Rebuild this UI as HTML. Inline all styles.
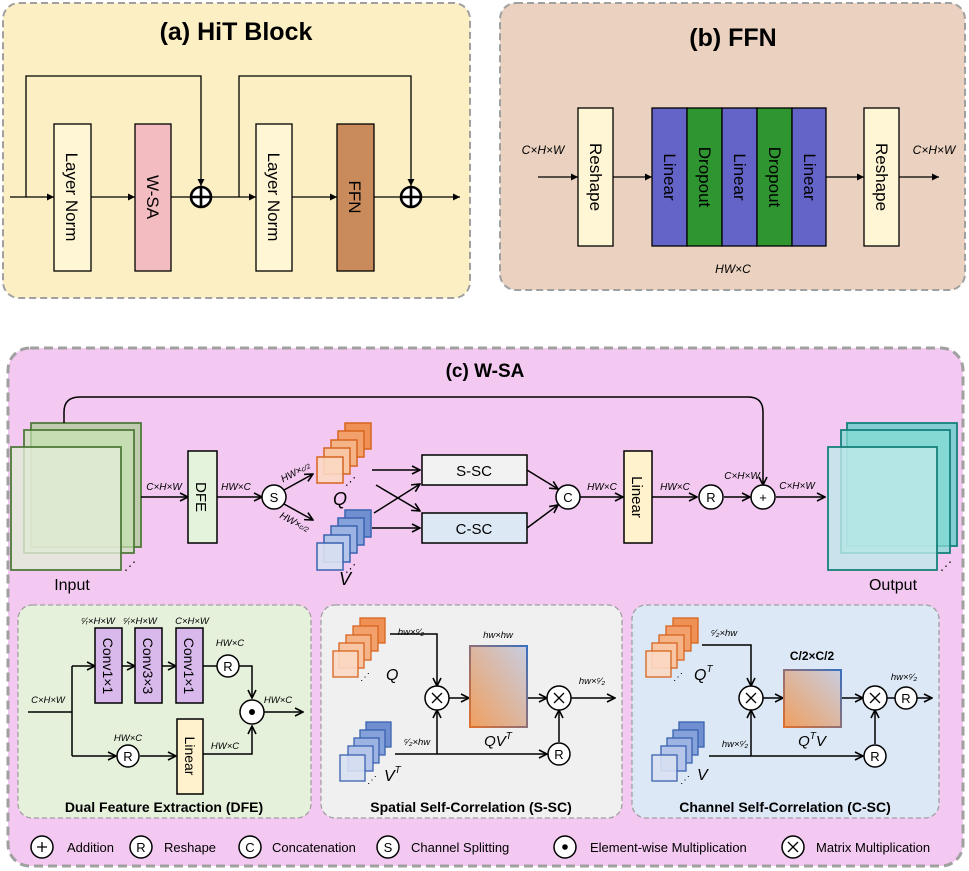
<!DOCTYPE html>
<html><head><meta charset="utf-8"><style>
html,body{margin:0;padding:0;background:#fff;}
svg{display:block;font-family:"Liberation Sans",Arial,sans-serif;}
</style></head><body>
<svg width="969" height="871" viewBox="0 0 969 871" xmlns="http://www.w3.org/2000/svg">
<defs>
<marker id="a" markerWidth="10" markerHeight="10" refX="9" refY="5" orient="auto" markerUnits="userSpaceOnUse"><path d="M1,1 L9,5 L1,9" fill="none" stroke="#000" stroke-width="1.6"/></marker>
<marker id="t" markerWidth="8" markerHeight="8" refX="7" refY="4" orient="auto" markerUnits="userSpaceOnUse"><path d="M0,0.5 L7,4 L0,7.5 Z" fill="#000"/></marker>
<linearGradient id="g" x1="0" y1="1" x2="1" y2="0"><stop offset="0" stop-color="#f0a060"/><stop offset="1" stop-color="#c8cde0"/></linearGradient>
<linearGradient id="gb" x1="0" y1="1" x2="1" y2="0"><stop offset="0" stop-color="#e07030"/><stop offset="1" stop-color="#3a70c0"/></linearGradient>
</defs>

<!-- (a) -->
<rect x="3" y="3" width="467" height="295" rx="16" fill="#fdefc4" stroke="#a0a0a0" stroke-width="2" stroke-dasharray="7,4"/>
<text x="236" y="40" font-size="25" font-weight="bold" text-anchor="middle">(a) HiT Block</text>
<g stroke="#000" stroke-width="1.3" fill="none">
<path d="M10,197 H54" marker-end="url(#t)"/>
<path d="M91,197 H135" marker-end="url(#t)"/>
<path d="M171,197 H190"/>
<path d="M212,197 H256" marker-end="url(#t)"/>
<path d="M292,197 H337" marker-end="url(#t)"/>
<path d="M374,197 H400"/>
<path d="M422,197 H460" marker-end="url(#t)"/>
<path d="M26,197 V76 H201 V186" marker-end="url(#t)"/>
<path d="M239,197 V76 H411 V186" marker-end="url(#t)"/>
</g>
<rect x="54" y="124" width="37" height="147" fill="#fff6d5" stroke="#000" stroke-width="1.3"/>
<rect x="135" y="124" width="36" height="147" fill="#f3bcc0" stroke="#000" stroke-width="1.3"/>
<rect x="256" y="124" width="36" height="147" fill="#fff6d5" stroke="#000" stroke-width="1.3"/>
<rect x="337" y="124" width="37" height="147" fill="#c98b5c" stroke="#000" stroke-width="1.3"/>
<g font-size="17" text-anchor="middle">
<text transform="translate(66,197) rotate(90)">Layer Norm</text>
<text transform="translate(147,197) rotate(90)">W-SA</text>
<text transform="translate(268,197) rotate(90)">Layer Norm</text>
<text transform="translate(349,197) rotate(90)">FFN</text>
</g>
<g stroke="#000" stroke-width="2.6" fill="#fff">
<circle cx="201" cy="197" r="10"/><path d="M191,197H211M201,187V207"/>
<circle cx="411" cy="197" r="10"/><path d="M401,197H421M411,187V207"/>
</g>

<!-- (b) -->
<rect x="500" y="3" width="465" height="287" rx="16" fill="#ead1c0" stroke="#a0a0a0" stroke-width="2" stroke-dasharray="7,4"/>
<text x="733" y="46" font-size="25" font-weight="bold" text-anchor="middle">(b) FFN</text>
<g stroke="#000" stroke-width="1.3" fill="none">
<path d="M538,177 H578" marker-end="url(#t)"/>
<path d="M613,177 H652" marker-end="url(#t)"/>
<path d="M826,177 H864" marker-end="url(#t)"/>
<path d="M899,177 H939" marker-end="url(#t)"/>
</g>
<rect x="578" y="108" width="35" height="138" fill="#fff6d5" stroke="#000" stroke-width="1.3"/>
<rect x="864" y="108" width="35" height="138" fill="#fff6d5" stroke="#000" stroke-width="1.3"/>
<rect x="652" y="108" width="35" height="138" fill="#6464c8" stroke="#000" stroke-width="1.3"/>
<rect x="687" y="108" width="35" height="138" fill="#2e9530" stroke="#000" stroke-width="1.3"/>
<rect x="722" y="108" width="35" height="138" fill="#6464c8" stroke="#000" stroke-width="1.3"/>
<rect x="757" y="108" width="35" height="138" fill="#2e9530" stroke="#000" stroke-width="1.3"/>
<rect x="792" y="108" width="34" height="138" fill="#6464c8" stroke="#000" stroke-width="1.3"/>
<g font-size="17" text-anchor="middle">
<text transform="translate(590,177) rotate(90)">Reshape</text>
<text transform="translate(876,177) rotate(90)">Reshape</text>
<text transform="translate(664,177) rotate(90)">Linear</text>
<text transform="translate(699,177) rotate(90)">Dropout</text>
<text transform="translate(734,177) rotate(90)">Linear</text>
<text transform="translate(769,177) rotate(90)">Dropout</text>
<text transform="translate(804,177) rotate(90)">Linear</text>
</g>
<g font-size="12" font-style="italic" text-anchor="middle">
<text x="543" y="154">C×H×W</text><text x="934" y="154">C×H×W</text><text x="733" y="273">HW×C</text>
</g>

<!-- (c) -->
<rect x="8" y="348" width="955" height="518" rx="22" fill="#f3c9f1" stroke="#a0a0a0" stroke-width="3" stroke-dasharray="9,5"/>
<text x="485" y="377" font-size="19" font-weight="bold" text-anchor="middle">(c) W-SA</text>

<rect x="31" y="423" width="110" height="124" fill="#a8cf92" fill-opacity="0.7" stroke="#4f7a3a" stroke-width="1.8"/>
<rect x="24" y="430" width="110" height="123" fill="#c9e4b5" fill-opacity="0.7" stroke="#4f7a3a" stroke-width="1.8"/>
<rect x="11" y="447" width="110" height="123" fill="#e2ecd8" fill-opacity="0.8" stroke="#4f7a3a" stroke-width="1.8"/>
<text x="124" y="570" font-size="12">⋰</text>
<text x="72" y="590" font-size="16" text-anchor="middle">Input</text>
<rect x="847" y="423" width="110" height="123" fill="#5ecdc8" fill-opacity="0.75" stroke="#16807a" stroke-width="1.8"/>
<rect x="841" y="430" width="109" height="123" fill="#86dcd6" fill-opacity="0.75" stroke="#16807a" stroke-width="1.8"/>
<rect x="828" y="447" width="109" height="123" fill="#bfe9ea" fill-opacity="0.8" stroke="#16807a" stroke-width="1.8"/>
<text x="940" y="570" font-size="12">⋰</text>
<text x="893" y="590" font-size="16" text-anchor="middle">Output</text>

<g stroke="#d7641e" stroke-width="1.5">
<rect x="345" y="423" width="26" height="26" fill="#ef9055"/>
<rect x="338" y="431" width="26" height="26" fill="#f2a06c"/>
<rect x="331" y="440" width="26" height="26" fill="#f5b488"/>
<rect x="324" y="448" width="26" height="26" fill="#f8c6a4"/>
<rect x="317" y="457" width="26" height="26" fill="#fbd8c4" fill-opacity="0.9"/>
</g>
<text x="345" y="485" font-size="11">⋰</text>
<text x="340" y="505" font-size="18" font-style="italic" text-anchor="middle">Q</text>
<g stroke="#3a62b0" stroke-width="1.5">
<rect x="345" y="510" width="26" height="27" fill="#6f8fd0"/>
<rect x="338" y="518" width="26" height="27" fill="#86a2da"/>
<rect x="331" y="526" width="26" height="27" fill="#9db4e2"/>
<rect x="324" y="535" width="26" height="27" fill="#b5c6ea"/>
<rect x="317" y="543" width="26" height="27" fill="#d8e0f2" fill-opacity="0.9"/>
</g>
<text x="345" y="572" font-size="11">⋰</text>
<text x="345" y="585" font-size="18" font-style="italic" text-anchor="middle">V</text>

<g stroke="#000" stroke-width="1.5" fill="none">
<path d="M64,423 V412 Q64,397 80,397 H748 Q763,397 763,412 V485" marker-end="url(#a)"/>
<path d="M141,497 H188" marker-end="url(#a)"/>
<path d="M217,497 H262" marker-end="url(#a)"/>
<path d="M284,490 L313,474" marker-end="url(#a)"/>
<path d="M284,504 L313,520" marker-end="url(#a)"/>
<path d="M372,470 H420" marker-end="url(#a)"/>
<path d="M376,485 L420,511" marker-end="url(#a)"/>
<path d="M374,513 L420,484" marker-end="url(#a)"/>
<path d="M372,528 H420" marker-end="url(#a)"/>
<path d="M527,470 L558,489" marker-end="url(#a)"/>
<path d="M527,528 L558,505" marker-end="url(#a)"/>
<path d="M580,497 H623" marker-end="url(#a)"/>
<path d="M652,497 H697" marker-end="url(#a)"/>
<path d="M724,497 H750" marker-end="url(#a)"/>
<path d="M776,497 H825" marker-end="url(#a)"/>
</g>
<rect x="188" y="451" width="29" height="92" fill="#e4f4dc" stroke="#000" stroke-width="1.5"/>
<text transform="translate(196,497) rotate(90)" font-size="15" text-anchor="middle">DFE</text>
<rect x="422" y="455" width="105" height="30" fill="#f2f2f2" stroke="#000" stroke-width="1.5"/>
<text x="474" y="476" font-size="15" text-anchor="middle">S-SC</text>
<rect x="422" y="513" width="105" height="30" fill="#dde8f5" stroke="#000" stroke-width="1.5"/>
<text x="474" y="534" font-size="15" text-anchor="middle">C-SC</text>
<rect x="624" y="451" width="28" height="92" fill="#fff2cc" stroke="#000" stroke-width="1.5"/>
<text transform="translate(632,497) rotate(90)" font-size="15" text-anchor="middle">Linear</text>
<g stroke="#000" stroke-width="1.5" fill="#fff">
<circle cx="274" cy="497" r="12"/><circle cx="568" cy="497" r="12"/><circle cx="711" cy="497" r="12"/><circle cx="763" cy="497" r="12"/>
</g>
<g font-size="13" text-anchor="middle">
<text x="274" y="502">S</text><text x="568" y="502">C</text><text x="711" y="502">R</text><text x="763" y="502">+</text>
</g>
<g font-size="10" font-style="italic" text-anchor="middle">
<text x="164" y="490">C×H×W</text><text x="236" y="490">HW×C</text>
<text x="602" y="490">HW×C</text><text x="675" y="490">HW×C</text>
<text x="742" y="479">C×H×W</text><text x="797" y="489">C×H×W</text>
<text transform="translate(297,475) rotate(-28)">HW×<tspan font-size="7">c/2</tspan></text>
<text transform="translate(293,525) rotate(28)">HW×<tspan font-size="7">c/2</tspan></text>
</g>

<!-- DFE panel -->
<rect x="18" y="605" width="293" height="213" rx="14" fill="#e6f1dc" stroke="#a0a0a0" stroke-width="1.3" stroke-dasharray="5,3"/>
<g stroke="#000" stroke-width="1.5" fill="none">
<path d="M28,712 H72"/>
<path d="M72,666 V756"/>
<path d="M72,666 H95" marker-end="url(#a)"/>
<path d="M122,666 H135" marker-end="url(#a)"/>
<path d="M162,666 H176" marker-end="url(#a)"/>
<path d="M203,666 H217"/>
<path d="M239,666 H252 V698" marker-end="url(#a)"/>
<path d="M72,756 H116" marker-end="url(#a)"/>
<path d="M140,756 H176" marker-end="url(#a)"/>
<path d="M203,754 H252 V726" marker-end="url(#a)"/>
<path d="M264,712 H303" marker-end="url(#a)"/>
</g>
<g fill="#d9b9ec" stroke="#000" stroke-width="1.5">
<rect x="95" y="628" width="27" height="75"/><rect x="135" y="628" width="27" height="75"/><rect x="176" y="628" width="27" height="75"/>
</g>
<rect x="177" y="719" width="26" height="75" fill="#fff2cc" stroke="#000" stroke-width="1.5"/>
<g font-size="14" text-anchor="middle">
<text transform="translate(103,666) rotate(90)">Conv1×1</text>
<text transform="translate(143,666) rotate(90)">Conv3×3</text>
<text transform="translate(184,666) rotate(90)">Conv1×1</text>
<text transform="translate(185,756) rotate(90)">Linear</text>
</g>
<g stroke="#000" stroke-width="1.5" fill="#fff">
<circle cx="228" cy="666" r="11"/><circle cx="128" cy="756" r="11"/><circle cx="252" cy="712" r="12"/>
</g>
<circle cx="252" cy="712" r="3" fill="#000"/>
<g font-size="13" text-anchor="middle"><text x="228" y="671">R</text><text x="128" y="761">R</text></g>
<g font-size="9.5" font-style="italic" text-anchor="middle">
<text x="98" y="624">ᶜ⁄ᵣ×H×W</text><text x="140" y="624">ᶜ⁄ᵣ×H×W</text><text x="192" y="624">C×H×W</text>
<text x="230" y="646">HW×C</text><text x="48" y="703">C×H×W</text><text x="278" y="703">HW×C</text>
<text x="128" y="741">HW×C</text><text x="225" y="749">HW×C</text>
</g>
<text x="164" y="812" font-size="14" font-weight="bold" text-anchor="middle">Dual Feature Extraction (DFE)</text>

<!-- S-SC panel -->
<rect x="321" y="605" width="301" height="213" rx="14" fill="#f0f0f0" stroke="#a0a0a0" stroke-width="1.3" stroke-dasharray="5,3"/>
<g stroke="#d7641e" stroke-width="1.3">
<rect x="360" y="618" width="25" height="25" fill="#ef9055"/><rect x="353" y="626" width="25" height="25" fill="#f2a06c"/>
<rect x="346" y="635" width="25" height="25" fill="#f5b488"/><rect x="339" y="643" width="25" height="25" fill="#f8c6a4"/>
<rect x="333" y="651" width="25" height="26" fill="#fbd8c4" fill-opacity="0.9"/>
</g>
<text x="360" y="680" font-size="10">⋰</text>
<text x="386" y="680" font-size="16" font-style="italic">Q</text>
<g stroke="#3a62b0" stroke-width="1.3">
<rect x="366" y="722" width="25" height="25" fill="#6f8fd0"/><rect x="360" y="730" width="25" height="25" fill="#86a2da"/>
<rect x="354" y="738" width="25" height="25" fill="#9db4e2"/><rect x="348" y="746" width="25" height="25" fill="#b5c6ea"/>
<rect x="340" y="755" width="25" height="26" fill="#d8e0f2" fill-opacity="0.9"/>
</g>
<text x="367" y="783" font-size="10">⋰</text>
<text x="384" y="781" font-size="16" font-style="italic">V<tspan font-size="10" dy="-8">T</tspan></text>
<g stroke="#000" stroke-width="1.5" fill="none">
<path d="M390,634 H437 V686" marker-end="url(#a)"/>
<path d="M395,754 H547" marker-end="url(#a)"/>
<path d="M437,754 V710" marker-end="url(#a)"/>
<path d="M449,698 H469" marker-end="url(#a)"/>
<path d="M527,698 H547" marker-end="url(#a)"/>
<path d="M559,742 V710" marker-end="url(#a)"/>
<path d="M571,698 H615" marker-end="url(#a)"/>
</g>
<rect x="470" y="646" width="57" height="81" fill="url(#g)" stroke="url(#gb)" stroke-width="2"/>
<g stroke="#000" stroke-width="1.5" fill="#fff"><circle cx="437" cy="698" r="12"/><circle cx="559" cy="698" r="12"/><circle cx="559" cy="754" r="11"/></g>
<g stroke="#000" stroke-width="1.3"><path d="M432,693l10,10M442,693l-10,10M554,693l10,10M564,693l-10,10"/></g>
<text x="559" y="759" font-size="13" text-anchor="middle">R</text>
<g font-size="9.5" font-style="italic" text-anchor="middle">
<text x="411" y="635">hw×ᶜ⁄₂</text><text x="417" y="745">ᶜ⁄₂×hw</text><text x="498" y="638">hw×hw</text><text x="592" y="684">hw×ᶜ⁄₂</text>
</g>
<text x="498" y="746" font-size="15" font-style="italic" text-anchor="middle">QV<tspan font-size="10" dy="-7">T</tspan></text>
<text x="471" y="812" font-size="14" font-weight="bold" text-anchor="middle">Spatial Self-Correlation (S-SC)</text>

<!-- C-SC panel -->
<rect x="632" y="605" width="307" height="213" rx="14" fill="#dce8f5" stroke="#a0a0a0" stroke-width="1.3" stroke-dasharray="5,3"/>
<g stroke="#d7641e" stroke-width="1.3">
<rect x="673" y="618" width="25" height="25" fill="#ef9055"/><rect x="666" y="626" width="25" height="25" fill="#f2a06c"/>
<rect x="659" y="635" width="25" height="25" fill="#f5b488"/><rect x="652" y="643" width="25" height="25" fill="#f8c6a4"/>
<rect x="646" y="651" width="25" height="26" fill="#fbd8c4" fill-opacity="0.9"/>
</g>
<text x="673" y="680" font-size="10">⋰</text>
<text x="694" y="680" font-size="16" font-style="italic">Q<tspan font-size="10" dy="-8">T</tspan></text>
<g stroke="#3a62b0" stroke-width="1.3">
<rect x="679" y="722" width="25" height="25" fill="#6f8fd0"/><rect x="673" y="730" width="25" height="25" fill="#86a2da"/>
<rect x="667" y="738" width="25" height="25" fill="#9db4e2"/><rect x="661" y="746" width="25" height="25" fill="#b5c6ea"/>
<rect x="652" y="755" width="25" height="26" fill="#d8e0f2" fill-opacity="0.9"/>
</g>
<text x="680" y="783" font-size="10">⋰</text>
<text x="697" y="780" font-size="16" font-style="italic">V</text>
<g stroke="#000" stroke-width="1.5" fill="none">
<path d="M702,645 H751 V686" marker-end="url(#a)"/>
<path d="M709,756 H863" marker-end="url(#a)"/>
<path d="M751,756 V710" marker-end="url(#a)"/>
<path d="M763,698 H783" marker-end="url(#a)"/>
<path d="M841,698 H863" marker-end="url(#a)"/>
<path d="M875,744 V710" marker-end="url(#a)"/>
<path d="M887,698 H895"/>
<path d="M917,698 H932" marker-end="url(#a)"/>
</g>
<rect x="784" y="670" width="57" height="57" fill="url(#g)" stroke="url(#gb)" stroke-width="2"/>
<g stroke="#000" stroke-width="1.5" fill="#fff"><circle cx="751" cy="698" r="12"/><circle cx="875" cy="698" r="12"/><circle cx="906" cy="698" r="11"/><circle cx="875" cy="756" r="11"/></g>
<g stroke="#000" stroke-width="1.3"><path d="M746,693l10,10M756,693l-10,10M870,693l10,10M880,693l-10,10"/></g>
<g font-size="13" text-anchor="middle"><text x="906" y="703">R</text><text x="875" y="761">R</text></g>
<g font-size="9.5" font-style="italic" text-anchor="middle">
<text x="724" y="636">ᶜ⁄₂×hw</text><text x="735" y="747">hw×ᶜ⁄₂</text><text x="904" y="680">hw×ᶜ⁄₂</text>
</g>
<text x="812" y="660" font-size="12" font-weight="bold" text-anchor="middle">C/2×C/2</text>
<text x="812" y="746" font-size="15" font-style="italic" text-anchor="middle">Q<tspan font-size="10" dy="-7">T</tspan><tspan dy="7">V</tspan></text>
<text x="785" y="812" font-size="14" font-weight="bold" text-anchor="middle">Channel Self-Correlation (C-SC)</text>

<!-- legend -->
<g stroke="#000" stroke-width="1.5" fill="#fff">
<circle cx="42" cy="847" r="11"/><circle cx="141" cy="847" r="11"/><circle cx="250" cy="847" r="11"/><circle cx="388" cy="847" r="11"/><circle cx="565" cy="847" r="11"/><circle cx="793" cy="847" r="11"/>
</g>
<circle cx="565" cy="847" r="2.8" fill="#000"/>
<g stroke="#000" stroke-width="1.3"><path d="M788,842l10,10M798,842l-10,10M37,847h10M42,842v10"/></g>
<g font-size="13" text-anchor="middle"><text x="141" y="852">R</text><text x="250" y="852">C</text><text x="388" y="852">S</text></g>
<g font-size="13">
<text x="67" y="852">Addition</text><text x="164" y="852">Reshape</text><text x="272" y="852">Concatenation</text>
<text x="411" y="852">Channel Splitting</text><text x="590" y="852">Element-wise Multiplication</text><text x="816" y="852">Matrix Multiplication</text>
</g>
</svg>
</body></html>
